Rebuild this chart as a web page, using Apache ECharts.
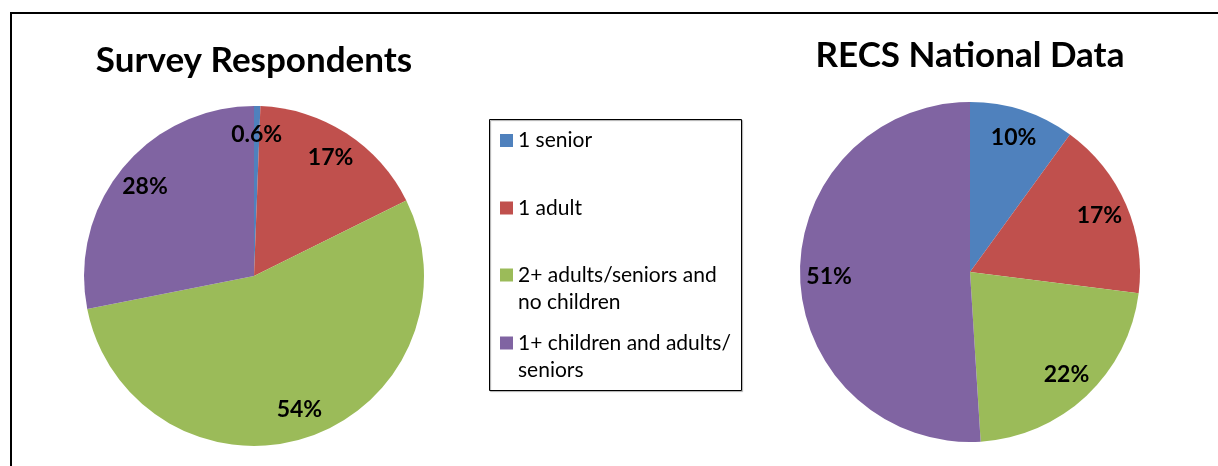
<!DOCTYPE html>
<html>
<head>
<meta charset="utf-8">
<script src="https://cdn.jsdelivr.net/npm/echarts@6/dist/echarts.min.js"></script>
<style>
html,body{margin:0;padding:0;background:#fff;}
#chart{width:1218px;height:466px;}
</style>
</head>
<body>
<div id="chart"></div>
<script>
const categories = ['1 senior', '1 adult', '2+ adults/seniors and no children', '1+ children and adults/ seniors'];
const legendLabels = ['1 senior', '1 adult', '2+ adults/seniors and\nno children', '1+ children and adults/\nseniors'];
const surveyValues = [0.6, 17, 54, 28];
const recsValues = [10, 17, 22, 51];
const surveyTitle = 'Survey Respondents';
const recsTitle = 'RECS National Data';
const colors = ['#4F81BD', '#C0504D', '#9BBB59', '#8064A2'];

const chart = echarts.init(document.getElementById('chart'), null, {renderer: 'canvas'});

function pieData(values, transparent) {
  return categories.map((name, i) => ({
    name: name,
    value: values[i],
    itemStyle: {color: transparent ? 'rgba(0,0,0,0)' : colors[i]}
  }));
}

function pieSeries(values, center) {
  return [
    {
      type: 'pie',
      center: center,
      radius: 170,
      startAngle: 90,
      clockwise: true,
      silent: true,
      animation: false,
      label: {show: false},
      labelLine: {show: false},
      itemStyle: {borderWidth: 0},
      data: pieData(values, false)
    },
    {
      type: 'pie',
      center: center,
      radius: [106, 170],
      startAngle: 90,
      clockwise: true,
      silent: true,
      animation: false,
      avoidLabelOverlap: false,
      legendHoverLink: false,
      label: {
        show: true,
        position: 'inside',
        formatter: p => p.value + '%',
        fontFamily: 'Lato',
        fontWeight: 'bold',
        fontSize: 23,
        color: '#000'
      },
      labelLine: {show: false},
      itemStyle: {borderWidth: 0},
      data: pieData(values, true)
    }
  ];
}

// multi-line entries get a leading blank line so the icon lines up with the first text line
const legendTops = [127, 194.5, 234.5, 302.5];
const legends = categories.map((name, i) => ({
  orient: 'vertical',
  left: 500,
  top: legendTops[i],
  padding: 0,
  icon: 'rect',
  itemWidth: 13,
  itemHeight: 13,
  selectedMode: false,
  data: [{name: name, itemStyle: {color: colors[i]}}],
  formatter: () => (legendLabels[i].indexOf('\n') >= 0 ? ' \n' : '') + legendLabels[i],
  textStyle: {
    fontFamily: 'Lato',
    fontSize: 21,
    color: '#000',
    lineHeight: 27
  }
}));

const option = {
  backgroundColor: '#fff',
  animation: false,
  title: [
    {
      text: surveyTitle,
      left: 254,
      top: 43.5,
      textAlign: 'center',
      padding: 0,
      textStyle: {fontFamily: 'Lato', fontWeight: 'bold', fontSize: 35, color: '#000'}
    },
    {
      text: recsTitle,
      left: 970,
      top: 38.5,
      textAlign: 'center',
      padding: 0,
      textStyle: {fontFamily: 'Lato', fontWeight: 'bold', fontSize: 35, color: '#000'}
    }
  ],
  legend: legends,
  graphic: [
    {
      type: 'rect',
      shape: {x: 11, y: 13, width: 1400, height: 600},
      style: {fill: 'none', stroke: '#000', lineWidth: 2},
      silent: true
    },
    {
      type: 'rect',
      shape: {x: 489.5, y: 119.5, width: 252, height: 271},
      style: {fill: 'none', stroke: '#000', lineWidth: 1, shadowColor: 'rgba(0,0,0,0.35)', shadowOffsetX: 1, shadowOffsetY: 1, shadowBlur: 1},
      silent: true,
      z: -1
    }
  ],
  series: [].concat(pieSeries(surveyValues, [254, 276]), pieSeries(recsValues, [970, 272]))
};

chart.setOption(option);
</script>
</body>
</html>
